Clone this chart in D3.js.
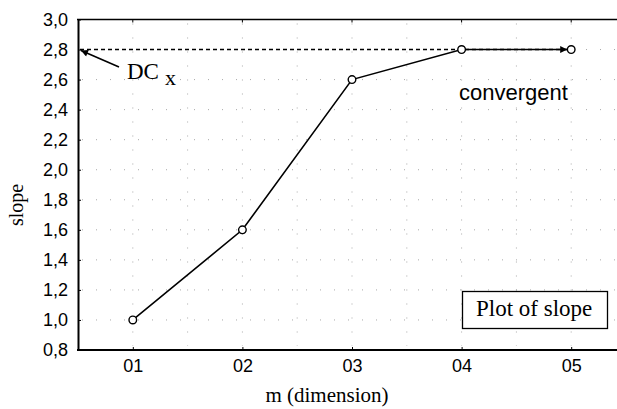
<!DOCTYPE html>
<html>
<head>
<meta charset="utf-8">
<script src="https://cdn.jsdelivr.net/npm/d3@7"></script>
<style>
  html, body { margin: 0; padding: 0; background: #fff; }
  svg { display: block; }
</style>
</head>
<body>
<svg id="chart" width="617" height="409"></svg>
<script>
// Embedding dimension vs. fitted slope
const dimensions = ["01", "02", "03", "04", "05"];
const slopes = [1.0, 1.6, 2.6, 2.8, 2.8];
const yTickValues = [0.8, 1.0, 1.2, 1.4, 1.6, 1.8, 2.0, 2.2, 2.4, 2.6, 2.8, 3.0];
const dcValue = 2.8;

const svg = d3.select("#chart");
const W = 617;
const plotLeft = 78, plotTop = 19.5, plotBottom = 350;
const step = 109.6;

const locale = d3.formatLocale({ decimal: ",", thousands: ".", grouping: [3], currency: ["", ""] });
const fmt = locale.format(".1f");

const x = d3.scalePoint().domain(dimensions).range([plotLeft, plotLeft + step * dimensions.length]).padding(0.5);
const y = d3.scaleLinear().domain([0.8, 3.0]).range([plotBottom, plotTop]);

const sans = "'Liberation Sans', Arial, sans-serif";
const serif = "'Liberation Serif', 'Times New Roman', serif";

svg.append("defs").append("marker")
  .attr("id", "arrow").attr("viewBox", "0 0 10 10")
  .attr("refX", 10).attr("refY", 5)
  .attr("markerWidth", 10).attr("markerHeight", 7)
  .attr("markerUnits", "userSpaceOnUse")
  .attr("orient", "auto")
  .append("path").attr("d", "M0,0 L10,5 L0,10 Z").attr("fill", "#000");

// faint dotted grid
const grid = svg.append("g").attr("stroke", "#aaa").attr("stroke-width", 1).attr("stroke-dasharray", "1,13");
grid.selectAll("line.h").data(yTickValues.slice(1, -1)).join("line")
  .attr("x1", plotLeft + 4).attr("x2", W).attr("y1", d => y(d)).attr("y2", d => y(d));
const vx = [];
dimensions.forEach(d => { vx.push(x(d)); vx.push(x(d) + step / 2); });
grid.selectAll("line.v").data(vx).join("line")
  .attr("x1", d => d).attr("x2", d => d).attr("y1", plotTop + 4).attr("y2", plotBottom - 4);

// y axis
const yAxis = svg.append("g").attr("transform", `translate(${plotLeft},0)`)
  .call(d3.axisLeft(y).tickValues(yTickValues).tickFormat(fmt).tickSizeInner(-3).tickSizeOuter(0).tickPadding(10));
yAxis.select(".domain").attr("stroke", "#000").attr("stroke-width", 2);
yAxis.selectAll(".tick line").attr("stroke", "#000").attr("stroke-width", 1);
yAxis.selectAll("text").attr("font-family", sans).attr("font-size", 18).attr("fill", "#000");

// x axis
const xAxis = svg.append("g").attr("transform", `translate(0,${plotBottom})`)
  .call(d3.axisBottom(x).tickSizeInner(-3).tickSizeOuter(0).tickPadding(9));
xAxis.select(".domain").remove();
xAxis.selectAll(".tick line").attr("stroke", "#000");
xAxis.selectAll("text").attr("font-family", sans).attr("font-size", 18).attr("fill", "#000");
svg.append("line").attr("x1", plotLeft - 1).attr("x2", W).attr("y1", plotBottom).attr("y2", plotBottom)
  .attr("stroke", "#000").attr("stroke-width", 2);

// top frame line
svg.append("line").attr("x1", plotLeft - 1).attr("x2", W).attr("y1", plotTop).attr("y2", plotTop)
  .attr("stroke", "#000").attr("stroke-width", 1.6);
svg.append("g").selectAll("line").data(dimensions).join("line")
  .attr("x1", d => x(d)).attr("x2", d => x(d)).attr("y1", plotTop).attr("y2", plotTop + 3)
  .attr("stroke", "#000");

// dashed reference line at DCx
svg.append("line")
  .attr("x1", plotLeft + 2).attr("x2", x(dimensions[dimensions.length - 1]) - 4)
  .attr("y1", y(dcValue)).attr("y2", y(dcValue))
  .attr("stroke", "#000").attr("stroke-width", 1.5).attr("stroke-dasharray", "4,3")
  .attr("marker-end", "url(#arrow)");

// slope curve
svg.append("path").datum(slopes)
  .attr("fill", "none").attr("stroke", "#000").attr("stroke-width", 1.6)
  .attr("d", d3.line().x((d, i) => x(dimensions[i])).y(d => y(d)));
svg.append("g").selectAll("circle").data(slopes).join("circle")
  .attr("cx", (d, i) => x(dimensions[i])).attr("cy", d => y(d)).attr("r", 3.8)
  .attr("fill", "#fff").attr("stroke", "#000").attr("stroke-width", 1.4);

// DCx annotation
svg.append("line").attr("x1", 119).attr("y1", 67).attr("x2", plotLeft + 3).attr("y2", y(dcValue) + 1)
  .attr("stroke", "#000").attr("stroke-width", 1.6).attr("marker-end", "url(#arrow)");
const dc = svg.append("text").attr("x", 127).attr("y", 79)
  .attr("font-family", serif).attr("font-size", 23).attr("fill", "#000");
dc.append("tspan").text("DC");
dc.append("tspan").attr("dx", 6).attr("dy", 6).attr("font-size", 22).text("x");

svg.append("text").attr("x", 459).attr("y", 100)
  .attr("font-family", sans).attr("font-size", 22).attr("fill", "#000").text("convergent");

// legend box
svg.append("rect").attr("x", 462.5).attr("y", 291.5).attr("width", 145).attr("height", 37)
  .attr("fill", "#fff").attr("stroke", "#000").attr("stroke-width", 1.3);
svg.append("text").attr("x", 476).attr("y", 316)
  .attr("font-family", serif).attr("font-size", 23).attr("fill", "#000").text("Plot of slope");

// axis titles
svg.append("text").attr("transform", "translate(23,205) rotate(-90)")
  .attr("text-anchor", "middle").attr("font-family", serif).attr("font-size", 20)
  .attr("fill", "#000").text("slope");
svg.append("text").attr("x", 327).attr("y", 402)
  .attr("text-anchor", "middle").attr("font-family", serif).attr("font-size", 21)
  .attr("fill", "#000").text("m (dimension)");
</script>
</body>
</html>
